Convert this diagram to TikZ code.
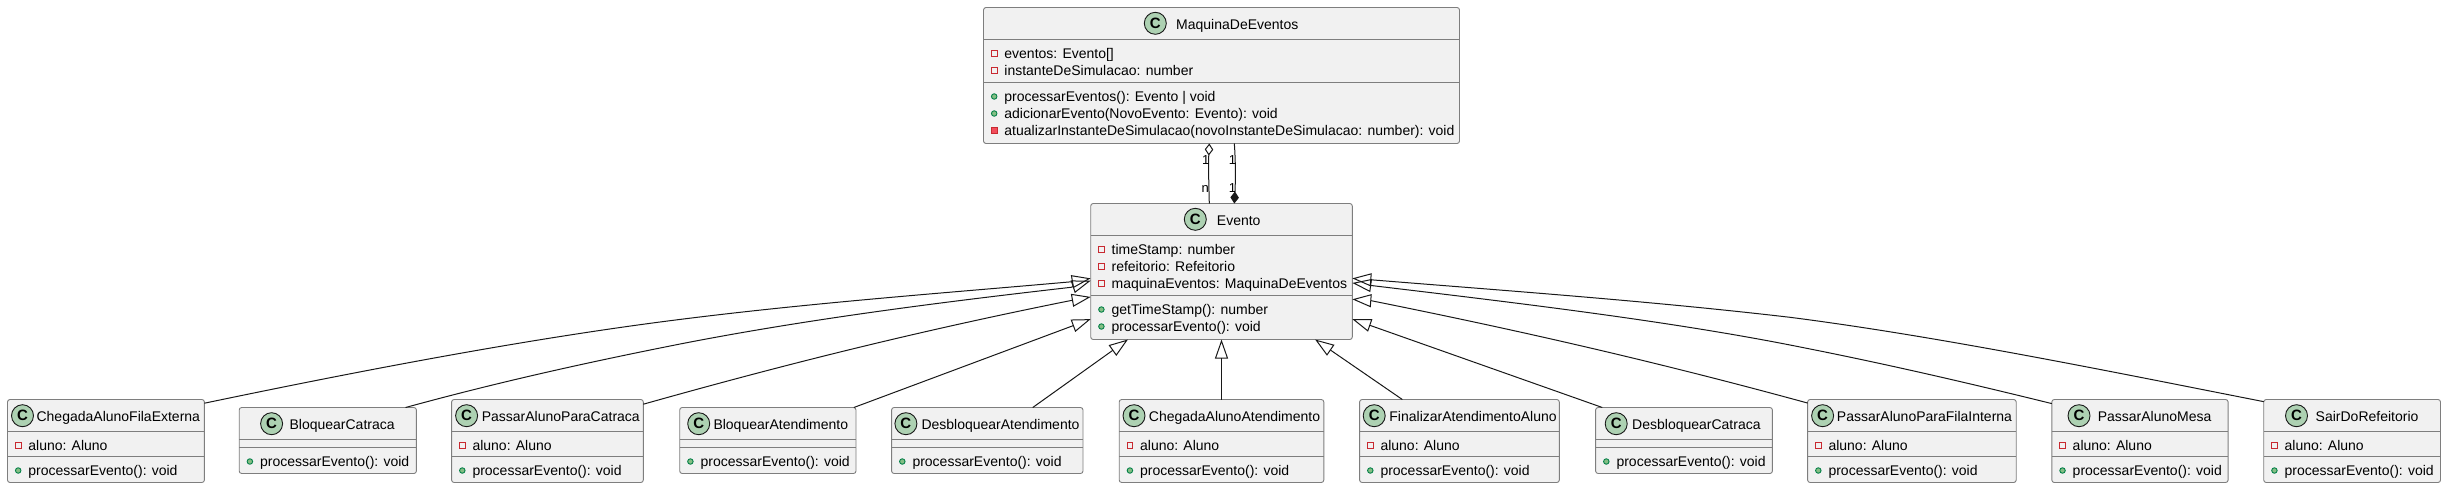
\documentclass[tikz,border=0pt]{standalone}
\usepackage{fontspec}
\setmainfont{Liberation Sans}
\usetikzlibrary{arrows.meta}
\definecolor{boxfill}{HTML}{F1F1F1}
\definecolor{ink}{HTML}{181818}
\definecolor{edgegray}{HTML}{7E7E7E}
\definecolor{spot}{HTML}{ADD1B2}
\definecolor{privline}{HTML}{C82930}
\definecolor{privfill}{HTML}{F24D5C}
\definecolor{publine}{HTML}{038048}
\definecolor{pubfill}{HTML}{84BE84}
\tikzset{
  classbox/.style={draw=edgegray,line width=0.9pt,fill=boxfill,rounded corners=2.5pt,inner sep=0pt,outer sep=0pt,anchor=north west},
  septr/.style={draw=edgegray,line width=0.9pt},
  spotc/.style={circle,draw=ink,line width=0.9pt,fill=spot,minimum size=22pt,inner sep=0pt,font=\fontsize{15}{16}\selectfont\bfseries},
  titletext/.style={anchor=base west,inner sep=0pt,font=\fontsize{14}{16}\selectfont},
  memtext/.style={anchor=base west,inner sep=0pt,font=\fontsize{14}{16}\selectfont},
  privfield/.style={rectangle,draw=privline,line width=0.9pt,minimum size=5.5pt,inner sep=0pt},
  privmethod/.style={rectangle,draw=privline,fill=privfill,line width=0.9pt,minimum size=5.5pt,inner sep=0pt},
  pubmethod/.style={circle,draw=publine,fill=pubfill,line width=0.9pt,minimum size=5.5pt,inner sep=0pt},
  ext/.style={draw=ink,line width=1pt,-{Triangle[open,length=19pt,width=13pt]}},
  rel/.style={draw=ink,line width=1pt},
  mult/.style={anchor=base west,inner sep=0pt,font=\fontsize{13}{15}\selectfont},
}
% id, x1, y1, x2, y2, circle x, circle y, text x, baseline, title
\newcommand{\umlbox}[9]{%
  \node[classbox,minimum width={(#4-#2)*1pt},minimum height={(#5-#3)*1pt}] (#1) at (#2,#3) {};
  \node[spotc] (#1-spot) at (#6,#7) {C};
  \node[titletext] (#1-title) at (#8,#9) }
% id-suffix, style, x, baseline, text
\newcommand{\member}[5]{%
  \node[#2] (#1-i) at (#3+10.7,#4-5) {};
  \node[memtext] (#1-t) at (#3+20.7,#4) {#5};}
% full class with aluno attribute: id x1 x2 circlex textx title
\newcommand{\fullclass}[6]{%
  \umlbox{#1}{#2}{399.5}{#3}{482.5}{#4}{415.7}{#5}{421}{#6};
  \draw[septr] (#2,431.5) -- (#3,431.5);
  \draw[septr] (#2,456.5) -- (#3,456.5);
  \member{#1-a}{privfield}{#2}{450.5}{aluno: Aluno}
  \member{#1-p}{pubmethod}{#2}{475.5}{processarEvento(): void}}
% short class without attributes
\newcommand{\shortclass}[6]{%
  \umlbox{#1}{#2}{407.5}{#3}{473.5}{#4}{423.7}{#5}{429}{#6};
  \draw[septr] (#2,439.5) -- (#3,439.5);
  \draw[septr] (#2,447.5) -- (#3,447.5);
  \member{#1-p}{pubmethod}{#2}{466.5}{processarEvento(): void}}
\begin{document}
\begin{tikzpicture}[x=1pt,y=-1pt]
\useasboundingbox (0,0) rectangle (2446,488);

% MaquinaDeEventos
\umlbox{maq}{983.5}{7.5}{1459.5}{143.5}{1155.3}{23.3}{1176}{29}{MaquinaDeEventos};
\draw[septr] (983.5,39.5) -- (1459.5,39.5);
\draw[septr] (983.5,82.5) -- (1459.5,82.5);
\member{maq-1}{privfield}{983.5}{58.5}{eventos: Evento[]}
\member{maq-2}{privfield}{983.5}{75.5}{instanteDeSimulacao: number}
\member{maq-3}{pubmethod}{983.5}{101.5}{processarEventos(): Evento | void}
\member{maq-4}{pubmethod}{983.5}{118.5}{adicionarEvento(NovoEvento: Evento): void}
\member{maq-5}{privmethod}{983.5}{135.5}{atualizarInstanteDeSimulacao(novoInstanteDeSimulacao: number): void}

% Evento
\umlbox{evt}{1090.7}{203.5}{1352.3}{339.5}{1195.3}{219.3}{1216.7}{225}{Evento};
\draw[septr] (1090.7,235.5) -- (1352.3,235.5);
\draw[septr] (1090.7,295.5) -- (1352.3,295.5);
\member{evt-1}{privfield}{1090.7}{254.5}{timeStamp: number}
\member{evt-2}{privfield}{1090.7}{271.5}{refeitorio: Refeitorio}
\member{evt-3}{privfield}{1090.7}{288.5}{maquinaEventos: MaquinaDeEventos}
\member{evt-4}{pubmethod}{1090.7}{314.5}{getTimeStamp(): number}
\member{evt-5}{pubmethod}{1090.7}{331.5}{processarEvento(): void}

% Subclasses
\fullclass{cafe}{7.5}{204.4}{22.5}{36.4}{ChegadaAlunoFilaExterna}
\shortclass{bcat}{239.2}{416.4}{271.6}{289.4}{BloquearCatraca}
\fullclass{pcat}{451.6}{643.3}{466.6}{481.6}{PassarAlunoParaCatraca}
\shortclass{bate}{679.7}{856}{698.7}{713.3}{BloquearAtendimento}
\shortclass{date}{891.6}{1083}{905.9}{921.3}{DesbloquearAtendimento}
\fullclass{cate}{1119.2}{1323.8}{1134}{1148.7}{ChegadaAlunoAtendimento}
\fullclass{fate}{1359.6}{1559.3}{1374.2}{1389.2}{FinalizarAtendimentoAluno}
\shortclass{dcat}{1595.6}{1772.4}{1616.2}{1632}{DesbloquearCatraca}
\fullclass{pfil}{1807.6}{2016.2}{1822.6}{1836.7}{PassarAlunoParaFilaInterna}
\fullclass{pmes}{2051.8}{2228.1}{2079}{2097.6}{PassarAlunoMesa}
\fullclass{sair}{2263.7}{2440.5}{2296.5}{2315.5}{SairDoRefeitorio}

% Inheritance connectors
\draw[ext] (cafe.21) .. controls (354,372) and (520,340) .. (670,320.7) .. controls (810,302.7) and (950,292.6) .. (1071,281.8) -- (evt.183.7);
\draw[ext] (bcat.23.1) .. controls (495,383) and (580,364) .. (670,346) .. controls (810,318) and (960.5,300) .. (1071,287.3) -- (evt.184.9);
\draw[ext] (pcat.21.1) .. controls (793.3,362) and (921.5,330.5) .. (1071,300.5) -- (evt.191.2);
\draw[ext] (bate.21.5) -- (evt.200.1);
\draw[ext] (date.36.6) -- (evt.216.1);
\draw[ext] (cate.north) -- (evt.south);
\draw[ext] (fate.144.3) -- (evt.324.3);
\draw[ext] (dcat.158.6) -- (evt.340.3);
\draw[ext] (pfil.160.5) .. controls (1657.6,362) and (1520.7,330.7) .. (1371.2,300.7) -- (evt.348.8);
\draw[ext] (pmes.157.4) .. controls (1960,381) and (1880,362.6) .. (1790,345) .. controls (1660,319.5) and (1500.7,301) .. (1371.2,285.5) -- (evt.355.1);
\draw[ext] (sair.156.9) .. controls (2113,372) and (1940,336.5) .. (1790,317.3) .. controls (1650,301) and (1510,291) .. (1371.2,279.8) -- (evt.357);

% Associations between MaquinaDeEventos and Evento
\draw[rel,{Diamond[open,length=12pt,width=8.5pt]}-] ([xshift=-12.2pt]maq.south) .. controls (1208.3,165) and (1208.8,185) .. ([xshift=-12.2pt]evt.north);
\draw[rel,-{Diamond[length=12pt,width=8.5pt]}] ([xshift=12.8pt]maq.south) .. controls (1235.6,160) and (1235.6,180) .. ([xshift=12.8pt]evt.north);
\node[mult] (m1) at (1201.8,164.5) {1};
\node[mult] (m2) at (1201.5,192.5) {n};
\node[mult] (m3) at (1228.7,164.5) {1};
\node[mult] (m4) at (1228.7,192.5) {1};
\end{tikzpicture}
\end{document}
